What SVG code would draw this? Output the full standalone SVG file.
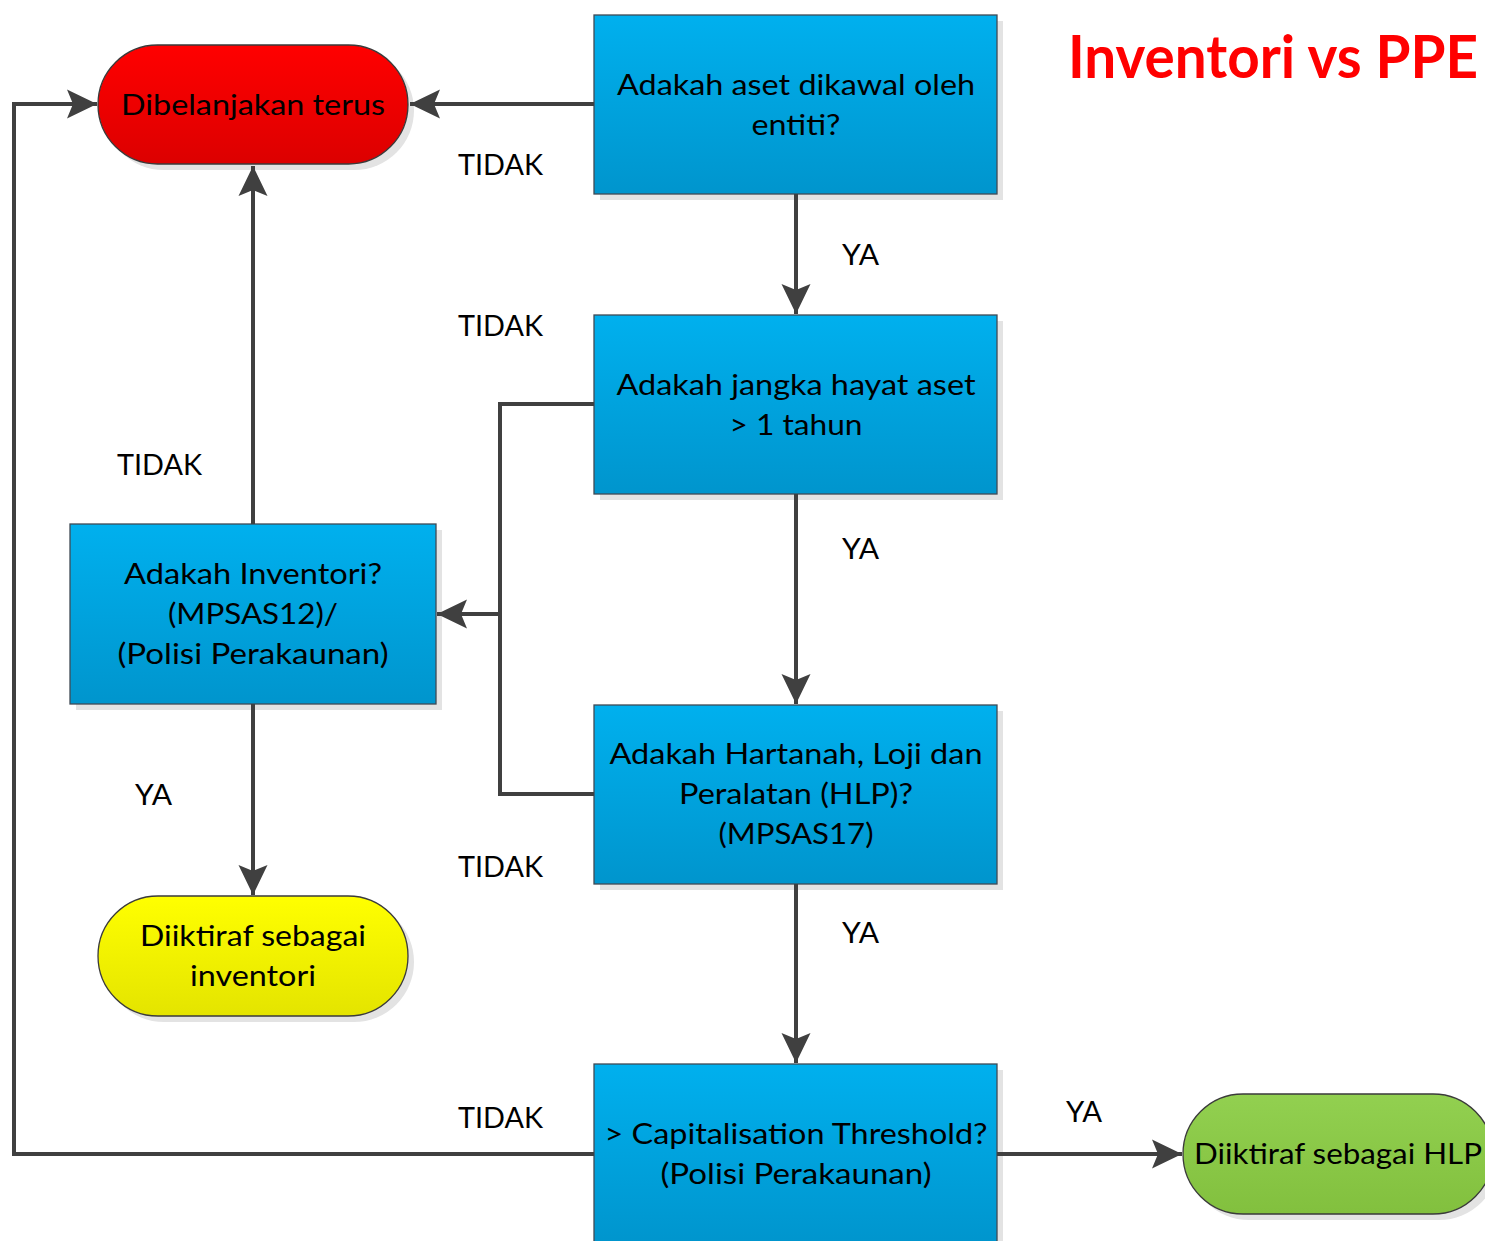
<svg xmlns="http://www.w3.org/2000/svg" width="1485" height="1241" viewBox="0 0 1485 1241">
  <defs>
    <linearGradient id="gBlue" x1="0" y1="0" x2="0" y2="1">
      <stop offset="0" stop-color="#00B0EE"/>
      <stop offset="1" stop-color="#0095CD"/>
    </linearGradient>
    <linearGradient id="gRed" x1="0" y1="0" x2="0" y2="1">
      <stop offset="0" stop-color="#FF0000"/>
      <stop offset="1" stop-color="#DC0000"/>
    </linearGradient>
    <linearGradient id="gYellow" x1="0" y1="0" x2="0" y2="1">
      <stop offset="0" stop-color="#FFFF00"/>
      <stop offset="1" stop-color="#E4E400"/>
    </linearGradient>
    <linearGradient id="gGreen" x1="0" y1="0" x2="0" y2="1">
      <stop offset="0" stop-color="#92D050"/>
      <stop offset="1" stop-color="#82C03E"/>
    </linearGradient>
    <!-- filled arrowhead with a notched back; tip sits at the path end -->
    <marker id="arrow" viewBox="0 0 30 30" refX="30" refY="15" markerWidth="30" markerHeight="30" markerUnits="userSpaceOnUse" orient="auto">
      <path d="M30,15 L0,0.5 L6,15 L0,29.5 Z" fill="#404040"/>
    </marker>
  </defs>
  <style>
    .shadow { fill: #E3E3E3; }
    .box { fill: url(#gBlue); stroke: #3F4A55; stroke-width: 1.3; }
    .term { stroke: #3A3A3A; stroke-width: 1.3; }
    .lbl { font-family: Lato, "Open Sans", "Liberation Sans", sans-serif; font-size: 29px; fill: #000; text-anchor: middle; }
    .edge { font-family: Lato, "Open Sans", "Liberation Sans", sans-serif; font-size: 29px; fill: #000; }
    .wire { fill: none; stroke: #404040; stroke-width: 4; stroke-linejoin: miter; }
    .title { font-family: Lato, "Open Sans", "Liberation Sans", sans-serif; font-weight: bold; font-size: 60px; fill: #FF0000; }
  </style>
  <rect width="1485" height="1241" fill="#FFFFFF"/>

  <text class="title" x="1068" y="78" textLength="410" lengthAdjust="spacingAndGlyphs">Inventori vs PPE</text>

  <!-- terminal: expensed -->
  <g id="dibelanjakan">
    <rect class="shadow" x="104" y="51" width="310" height="119" rx="59.5"/>
    <rect class="term" fill="url(#gRed)" x="98" y="45" width="310" height="119" rx="59.5"/>
    <text class="lbl" x="253" y="115" textLength="264" lengthAdjust="spacingAndGlyphs">Dibelanjakan terus</text>
  </g>

  <!-- decision: control -->
  <g id="dikawal">
    <rect class="shadow" x="600" y="21" width="403" height="179"/>
    <rect class="box" x="594" y="15" width="403" height="179"/>
    <text class="lbl" x="796" y="95" textLength="358" lengthAdjust="spacingAndGlyphs">Adakah aset dikawal oleh</text>
    <text class="lbl" x="796" y="135" textLength="89" lengthAdjust="spacingAndGlyphs">entiti?</text>
  </g>

  <!-- decision: useful life -->
  <g id="jangka-hayat">
    <rect class="shadow" x="600" y="321" width="403" height="179"/>
    <rect class="box" x="594" y="315" width="403" height="179"/>
    <text class="lbl" x="796" y="395" textLength="359" lengthAdjust="spacingAndGlyphs">Adakah jangka hayat aset</text>
    <text class="lbl" x="796" y="435" textLength="133" lengthAdjust="spacingAndGlyphs">&gt; 1 tahun</text>
  </g>

  <!-- decision: inventory -->
  <g id="inventori">
    <rect class="shadow" x="76" y="530" width="366" height="180"/>
    <rect class="box" x="70" y="524" width="366" height="180"/>
    <text class="lbl" x="253" y="584" textLength="258" lengthAdjust="spacingAndGlyphs">Adakah Inventori?</text>
    <text class="lbl" x="253" y="624" textLength="170" lengthAdjust="spacingAndGlyphs">(MPSAS12)/</text>
    <text class="lbl" x="253" y="664" textLength="271" lengthAdjust="spacingAndGlyphs">(Polisi Perakaunan)</text>
  </g>

  <!-- decision: PPE -->
  <g id="hlp">
    <rect class="shadow" x="600" y="711" width="403" height="179"/>
    <rect class="box" x="594" y="705" width="403" height="179"/>
    <text class="lbl" x="796" y="764" textLength="373" lengthAdjust="spacingAndGlyphs">Adakah Hartanah, Loji dan</text>
    <text class="lbl" x="796" y="804" textLength="234" lengthAdjust="spacingAndGlyphs">Peralatan (HLP)?</text>
    <text class="lbl" x="796" y="844" textLength="155" lengthAdjust="spacingAndGlyphs">(MPSAS17)</text>
  </g>

  <!-- terminal: recognised as inventory -->
  <g id="diiktiraf-inventori">
    <rect class="shadow" x="104" y="902" width="310" height="120" rx="60"/>
    <rect class="term" fill="url(#gYellow)" x="98" y="896" width="310" height="120" rx="60"/>
    <text class="lbl" x="253" y="946" textLength="226" lengthAdjust="spacingAndGlyphs">Diiktiraf sebagai</text>
    <text class="lbl" x="253" y="986" textLength="126" lengthAdjust="spacingAndGlyphs">inventori</text>
  </g>

  <!-- decision: capitalisation threshold -->
  <g id="threshold">
    <rect class="shadow" x="600" y="1070" width="403" height="180"/>
    <rect class="box" x="594" y="1064" width="403" height="180"/>
    <text class="lbl" x="796" y="1144" textLength="383" lengthAdjust="spacingAndGlyphs">&gt; Capitalisation Threshold?</text>
    <text class="lbl" x="796" y="1184" textLength="271" lengthAdjust="spacingAndGlyphs">(Polisi Perakaunan)</text>
  </g>

  <!-- terminal: recognised as PPE -->
  <g id="diiktiraf-hlp">
    <rect class="shadow" x="1189" y="1100" width="310" height="120" rx="60"/>
    <rect class="term" fill="url(#gGreen)" x="1183" y="1094" width="310" height="120" rx="60"/>
    <text class="lbl" x="1338" y="1164" textLength="288" lengthAdjust="spacingAndGlyphs">Diiktiraf sebagai HLP</text>
  </g>

  <!-- wires sit above the node shadows; each starts at a node edge -->
  <g id="connectors">
    <path class="wire" d="M594,104 H410" marker-end="url(#arrow)"/>
    <path class="wire" d="M796,194 V314" marker-end="url(#arrow)"/>
    <path class="wire" d="M796,494 V704" marker-end="url(#arrow)"/>
    <path class="wire" d="M796,884 V1063" marker-end="url(#arrow)"/>
    <path class="wire" d="M594,404 H500 V614 H437" marker-end="url(#arrow)"/>
    <path class="wire" d="M594,794 H500 V614"/>
    <path class="wire" d="M253,524 V166" marker-end="url(#arrow)"/>
    <path class="wire" d="M253,704 V895" marker-end="url(#arrow)"/>
    <path class="wire" d="M594,1154 H14 V104 H97" marker-end="url(#arrow)"/>
    <path class="wire" d="M997,1154 H1182" marker-end="url(#arrow)"/>

    <text class="edge" x="458" y="175" textLength="85" lengthAdjust="spacingAndGlyphs">TIDAK</text>
    <text class="edge" x="842" y="265" textLength="37" lengthAdjust="spacingAndGlyphs">YA</text>
    <text class="edge" x="458" y="336" textLength="85" lengthAdjust="spacingAndGlyphs">TIDAK</text>
    <text class="edge" x="117" y="475" textLength="85" lengthAdjust="spacingAndGlyphs">TIDAK</text>
    <text class="edge" x="842" y="559" textLength="37" lengthAdjust="spacingAndGlyphs">YA</text>
    <text class="edge" x="135" y="805" textLength="37" lengthAdjust="spacingAndGlyphs">YA</text>
    <text class="edge" x="458" y="877" textLength="85" lengthAdjust="spacingAndGlyphs">TIDAK</text>
    <text class="edge" x="842" y="943" textLength="37" lengthAdjust="spacingAndGlyphs">YA</text>
    <text class="edge" x="458" y="1128" textLength="85" lengthAdjust="spacingAndGlyphs">TIDAK</text>
    <text class="edge" x="1066" y="1122" textLength="36" lengthAdjust="spacingAndGlyphs">YA</text>
  </g>
</svg>
